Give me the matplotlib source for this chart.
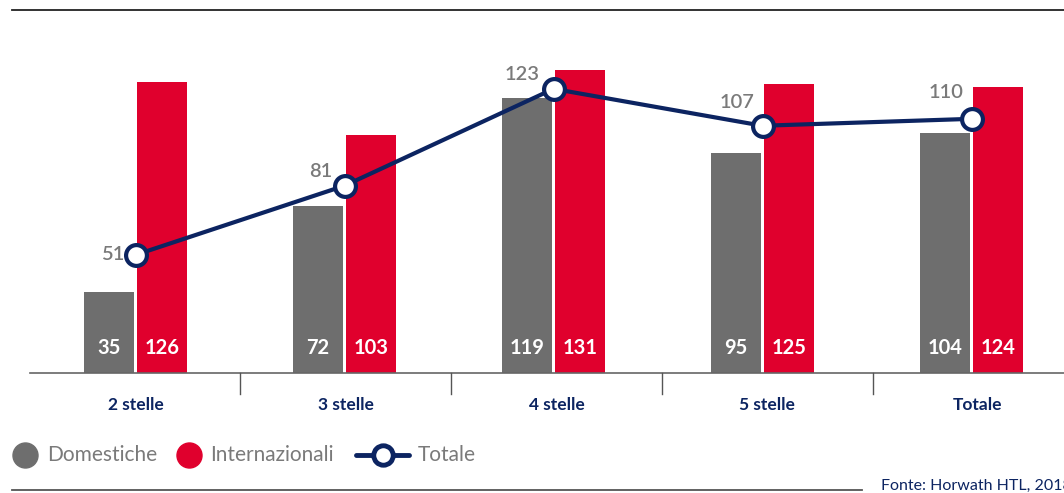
import matplotlib
matplotlib.use("Agg")
import matplotlib.pyplot as plt
import numpy as np
from matplotlib.lines import Line2D

# data
categories = ["2 stelle", "3 stelle", "4 stelle", "5 stelle", "Totale"]
domestiche = [35, 72, 119, 95, 104]
internazionali = [126, 103, 131, 125, 124]
totale = [51, 81, 123, 107, 110]

GREY = "#6e6e6e"
RED = "#e0002d"
NAVY = "#0c2461"
TXT_GREY = "#7a7a7a"

plt.rcParams["font.family"] = ["Lato", "DejaVu Sans"]

W, H = 1064, 493
fig = plt.figure(figsize=(W / 100, H / 100), dpi=100)


def fx(x):
    return x / W


def fy(y):
    return 1 - y / H


# axes: left edge 30px, baseline at 372.5px, top at 10px
ax = fig.add_axes([fx(30), fy(372.5), fx(W - 30 + 40), (372.5 - 10) / H])
step = 209.0
x = np.arange(len(categories))
ax.set_xlim((30 - 135.5) / step, (W + 40 - 135.5) / step)
ax.set_ylim(0, 362.5 / 2.306)
ax.axis("off")

bw = 0.24
off = 0.127
ax.bar(x - off, domestiche, width=bw, color=GREY, zorder=2)
ax.bar(x + off, internazionali, width=bw, color=RED, zorder=2)

for i in range(len(categories)):
    ax.annotate(str(domestiche[i]), (x[i] - off, 0), xytext=(0, 18),
                textcoords="offset points", ha="center", va="center",
                color="white", fontsize=14.5, fontweight="bold", zorder=3)
    ax.annotate(str(internazionali[i]), (x[i] + off, 0), xytext=(0, 18),
                textcoords="offset points", ha="center", va="center",
                color="white", fontsize=14.5, fontweight="bold", zorder=3)

ax.plot(x, totale, color=NAVY, lw=3, marker="o", ms=15, mfc="white",
        mec=NAVY, mew=3, zorder=4)

label_off = [(-8, 0), (-9, 10), (-10, 10), (-6, 17), (-6, 19)]
for i, v in enumerate(totale):
    ax.annotate(str(v), (x[i], v), xytext=label_off[i], textcoords="offset points",
                ha="right", va="center", color=TXT_GREY, fontsize=14.5,
                fontweight="semibold", zorder=5)

# baseline and separators
fig.add_artist(Line2D([fx(30), 1], [fy(372.5), fy(372.5)], color="#666666", lw=1.2))
for i in range(len(categories) - 1):
    sx = 135.5 + step * (i + 0.5) + 2 * i
    fig.add_artist(Line2D([fx(sx), fx(sx)], [fy(373), fy(394)], color="#555555", lw=1.0))

for i, c in enumerate(categories):
    cx = 135.5 + step * i + 1.5 * i
    fig.text(fx(cx), fy(405), c, ha="center", va="center", color=NAVY,
             fontsize=12.5, fontweight="bold")

# top and bottom rules
fig.add_artist(Line2D([fx(12), 1], [fy(10), fy(10)], color="#222222", lw=1.3))
fig.add_artist(Line2D([fx(12), fx(862)], [fy(490), fy(490)], color="#555555", lw=1.3))

# legend (drawn by hand)
ly = 455
fig.add_artist(Line2D([fx(25)], [fy(ly)], marker="o", ms=18, color=GREY, lw=0))
fig.text(fx(47), fy(ly), "Domestiche", ha="left", va="center", color=TXT_GREY, fontsize=15)
fig.add_artist(Line2D([fx(189)], [fy(ly)], marker="o", ms=18, color=RED, lw=0))
fig.text(fx(210), fy(ly), "Internazionali", ha="left", va="center", color=TXT_GREY, fontsize=15)
fig.add_artist(Line2D([fx(356), fx(409)], [fy(ly), fy(ly)], color=NAVY, lw=3.5,
                      solid_capstyle="round"))
fig.add_artist(Line2D([fx(383)], [fy(ly)], marker="o", ms=14, mfc="white", mec=NAVY,
                      mew=3.5, lw=0))
fig.text(fx(418), fy(ly), "Totale", ha="left", va="center", color=TXT_GREY, fontsize=15)

fig.text(fx(881), fy(486), "Fonte: Horwath HTL, 2018", ha="left", va="center",
         color=NAVY, fontsize=11.5)

fig.savefig("out.png", dpi=100)
